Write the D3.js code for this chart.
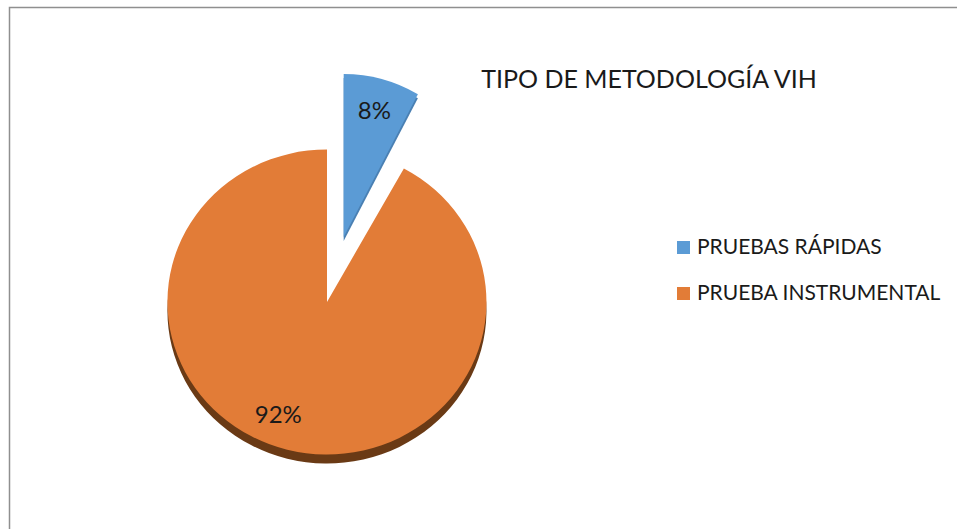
<!DOCTYPE html>
<html>
<head>
<meta charset="utf-8">
<script src="https://cdn.jsdelivr.net/npm/d3@7"></script>
<style>
  body { margin: 0; background: #fff; }
  text { font-family: Lato, "Noto Sans", sans-serif; fill: #1a1a1a; }
</style>
</head>
<body>
<div id="chart"></div>
<script>
// data
var categories = ["PRUEBAS RÁPIDAS", "PRUEBA INSTRUMENTAL"];
var values = [8, 92];
var title = "TIPO DE METODOLOGÍA VIH";

var width = 957, height = 529;

var svg = d3.select("#chart")
  .append("svg")
    .attr("width", width)
    .attr("height", height);

// chart frame (cut off at right/bottom like the screenshot)
svg.append("rect")
  .attr("x", 9.5).attr("y", 7.5)
  .attr("width", 960).attr("height", 540)
  .attr("fill", "none")
  .attr("stroke", "#8f8f8f")
  .attr("stroke-width", 1.5);

var color = d3.scaleOrdinal()
  .domain(categories)
  .range(["#5B9BD5", "#E27C37"]);
var sideColor = d3.scaleOrdinal()
  .domain(categories)
  .range(["#4a80b3", "#6a3a15"]);

var pie = d3.pie().sort(null).value(function(d) { return d.value; });
var data = categories.map(function(c, i) { return {name: c, value: values[i]}; });
var arcs = pie(data);

// unit arc, stretched into an ellipse per slice (tilted 3D look)
var arc = d3.arc().innerRadius(0).outerRadius(1);

var cx = 327, cy = 302;
var rx = 159.5, ry = 152.5, depth = 9;
var explode = 67;

function sliceGeom(d, i) {
  var mid = (d.startAngle + d.endAngle) / 2;
  var off = i === 0 ? explode : 0;
  var sx = i === 0 ? 154 : rx, sy = i === 0 ? 163 : ry;
  return {
    x: cx + off * Math.sin(mid),
    y: cy - off * Math.cos(mid),
    sx: sx, sy: sy, mid: mid
  };
}

var g = svg.append("g");

// side (thickness) drawn first, shifted down
g.selectAll(".side")
  .data(arcs)
  .enter().append("path")
    .attr("class", "side")
    .attr("d", arc)
    .attr("transform", function(d, i) {
      var s = sliceGeom(d, i);
      return "translate(" + s.x + "," + (s.y + (i === 0 ? 4 : depth)) + ") scale(" + s.sx + "," + s.sy + ")";
    })
    .attr("fill", function(d) { return sideColor(d.data.name); });

// top faces
g.selectAll(".face")
  .data(arcs)
  .enter().append("path")
    .attr("class", "face")
    .attr("d", arc)
    .attr("transform", function(d, i) {
      var s = sliceGeom(d, i);
      return "translate(" + s.x + "," + s.y + ") scale(" + s.sx + "," + s.sy + ")";
    })
    .attr("fill", function(d) { return color(d.data.name); });

// percentage labels
var total = d3.sum(values);
g.selectAll(".lbl")
  .data(arcs)
  .enter().append("text")
    .attr("class", "lbl")
    .attr("x", function(d, i) {
      var s = sliceGeom(d, i);
      var a = s.mid + (i === 1 ? 0.14 : 0);
      return s.x + 0.8 * s.sx * Math.sin(a);
    })
    .attr("y", function(d, i) {
      var s = sliceGeom(d, i);
      var a = s.mid + (i === 1 ? 0.14 : 0);
      return s.y - 0.8 * s.sy * Math.cos(a);
    })
    .attr("dy", "0.35em")
    .attr("text-anchor", "middle")
    .style("font-size", "24px")
    .text(function(d) { return Math.round(d.value / total * 100) + "%"; });

// title
svg.append("text")
  .attr("x", 649)
  .attr("y", 88)
  .attr("text-anchor", "middle")
  .style("font-size", "25px")
  .text(title);

// legend
var legend = svg.selectAll(".legend")
  .data(categories)
  .enter().append("g")
    .attr("class", "legend")
    .attr("transform", function(d, i) { return "translate(677," + (241 + i * 46) + ")"; });

legend.append("rect")
  .attr("width", 13)
  .attr("height", 13)
  .attr("fill", color);

legend.append("text")
  .attr("x", 20)
  .attr("y", 13)
  .style("font-size", "21px")
  .text(function(d) { return d; });
</script>
</body>
</html>
